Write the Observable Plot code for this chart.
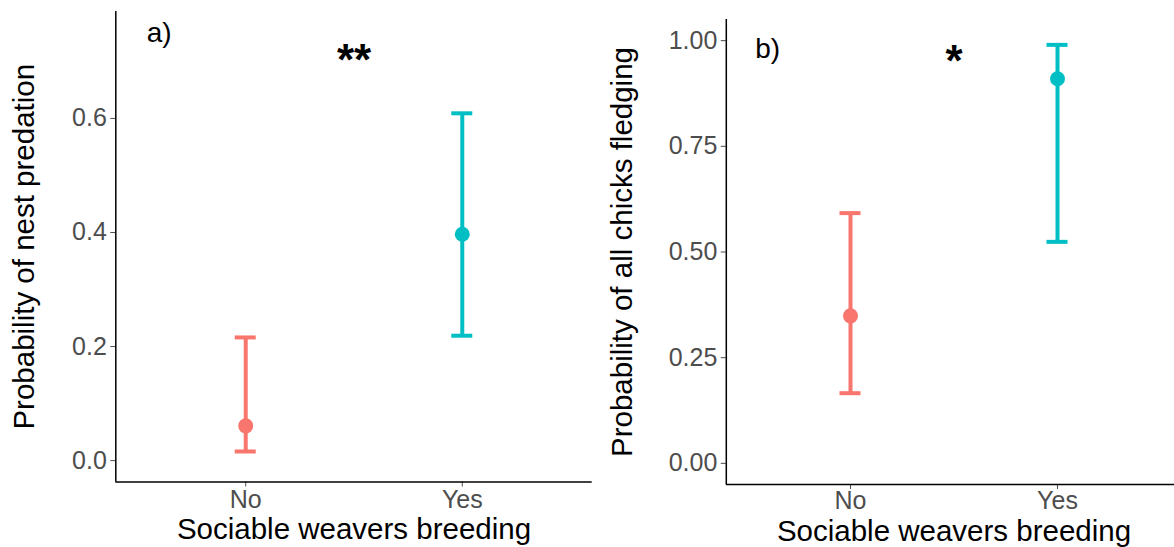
<!DOCTYPE html>
<html><head><meta charset="utf-8">
<script src="https://cdn.jsdelivr.net/npm/d3@7"></script>
<script src="https://cdn.jsdelivr.net/npm/@observablehq/plot@0.6"></script>
<style>
html,body{margin:0;padding:0;background:#fff;}
#wrap{position:relative;width:1174px;height:547px;overflow:hidden;background:#fff;}
#a,#b{position:absolute;top:0;width:600px;height:547px;}
#a{left:0;} #b{left:600px;}
#wrap svg{max-width:none !important;}
</style></head><body><div id="wrap"><div id="a"></div><div id="b"></div></div>
<script>
const categories = ["No", "Yes"];
const colors = ["#F8766D", "#00BFC4"];
const predEst = [0.061, 0.397];
const predLow = [0.016, 0.219];
const predHigh = [0.216, 0.609];
const fledgeEst = [0.349, 0.910];
const fledgeLow = [0.166, 0.524];
const fledgeHigh = [0.592, 0.990];
const predTicks = [0, 0.2, 0.4, 0.6];
const fledgeTicks = [0, 0.25, 0.5, 0.75, 1];
const xTitle = "Sociable weavers breeding";
const predTitle = "Probability of nest predation";
const fledgeTitle = "Probability of all chicks fledging";

const FONT = "'Liberation Sans', Arial, sans-serif";

function panel(o) {
  const rows = categories.map((c, i) => ({cat: c, pos: i + 1, est: o.est[i], low: o.low[i], high: o.high[i]}));
  return Plot.plot({
    width: o.width, height: 547,
    marginLeft: o.ml, marginRight: o.mr, marginTop: o.mt, marginBottom: o.mb,
    style: {fontFamily: FONT, background: "#fff", overflow: "visible", maxWidth: "none"},
    x: {type: "linear", domain: [0.4, 2.6], axis: null},
    y: {domain: o.yDomain, axis: null},
    color: {domain: categories, range: colors},
    marks: [
      Plot.axisX({ticks: [1, 2], tickFormat: d => categories[d - 1], tickSize: 5, tickPadding: o.xPad,
        fontSize: 25, color: "#4d4d4d", label: null}),
      Plot.axisY({ticks: o.yTicks, tickFormat: o.yFmt, tickSize: 5, tickPadding: 4,
        fontSize: 25, color: "#4d4d4d", label: null}),
      Plot.ruleY([o.yDomain[0]], {stroke: "#000", strokeWidth: 1.5}),
      Plot.ruleX([0.4], {stroke: "#000", strokeWidth: 1.5}),
      Plot.ruleX(rows, {x: "pos", y1: "low", y2: "high", stroke: "cat", strokeWidth: 4}),
      Plot.ruleY(rows, {y: "low", x1: "pos", x2: "pos", insetLeft: -10.5, insetRight: -10.5, stroke: "cat", strokeWidth: 4}),
      Plot.ruleY(rows, {y: "high", x1: "pos", x2: "pos", insetLeft: -10.5, insetRight: -10.5, stroke: "cat", strokeWidth: 4}),
      Plot.dot(rows, {x: "pos", y: "est", fill: "cat", r: 7.5}),
      Plot.text([o.tag], {x: d => d.x, y: d => d.y, text: d => d.label, fontSize: 28, fill: "#000", lineAnchor: "middle"}),
      Plot.text([o.sig], {x: d => d.x, y: d => d.y, text: d => d.label, fontSize: 44, fontWeight: "bold", fill: "#000", lineAnchor: "middle"}),
      Plot.text([o.yTitle], {frameAnchor: "left", dx: o.ytDx, rotate: -90, fontSize: 29.5, fill: "#000",
        textAnchor: "middle", lineAnchor: "middle"}),
      Plot.text([xTitle], {frameAnchor: "bottom", dy: o.xtDy, fontSize: 29.5, fill: "#000",
        textAnchor: "middle", lineAnchor: "middle"})
    ]
  });
}

document.getElementById("a").append(panel({
  width: 600, ml: 115.3, mr: 8.3, mt: 11, mb: 65.5,
  est: predEst, low: predLow, high: predHigh,
  yDomain: [-0.0375, 0.7875], yTicks: predTicks, yFmt: d3.format(".1f"),
  tag: {x: 0.6, y: 0.75, label: "a)"}, sig: {x: 1.5, y: 0.70, label: "**"},
  yTitle: predTitle, ytDx: -91, xtDy: 48, xPad: 3.5
}));
document.getElementById("b").append(panel({
  width: 590, ml: 125.8, mr: 8.8, mt: 19, mb: 63,
  est: fledgeEst, low: fledgeLow, high: fledgeHigh,
  yDomain: [-0.05, 1.05], yTicks: fledgeTicks, yFmt: d3.format(".2f"),
  tag: {x: 0.6, y: 0.98, label: "b)"}, sig: {x: 1.5, y: 0.95, label: "*"},
  yTitle: fledgeTitle, ytDx: -104, xtDy: 47, xPad: 1.5
}));
</script></body></html>
